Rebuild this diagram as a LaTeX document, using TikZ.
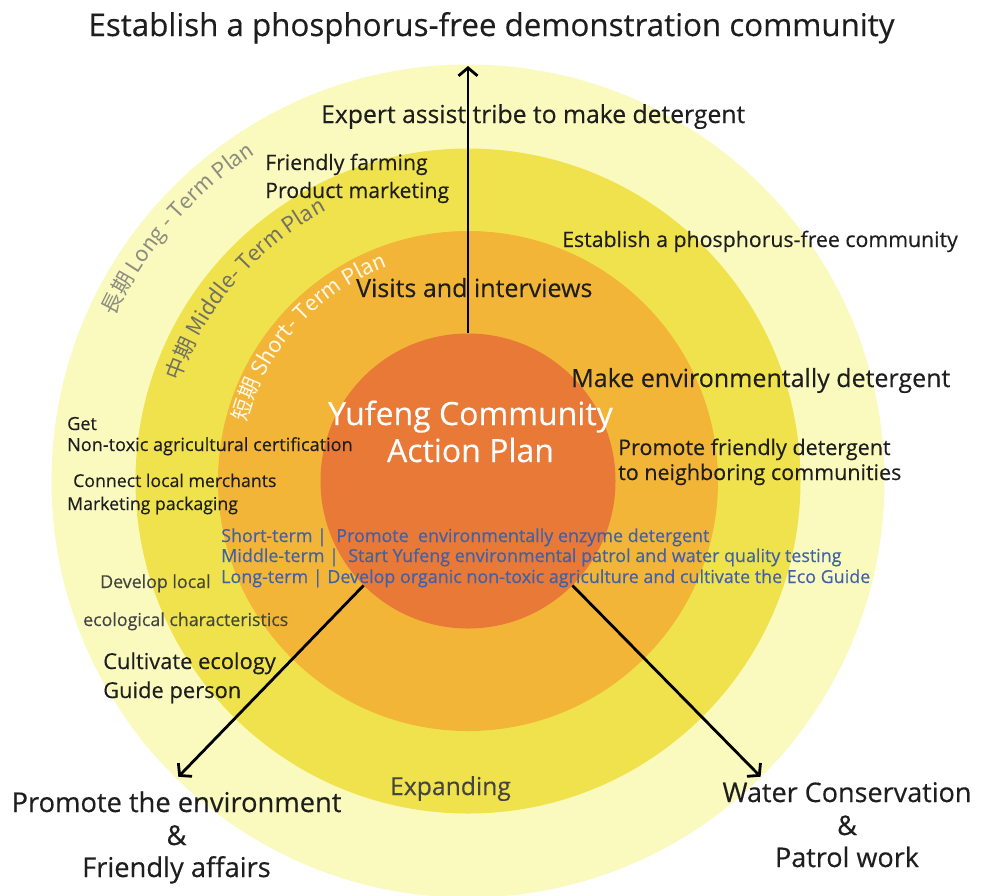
\documentclass[tikz,border=0pt]{standalone}
\usepackage{fontspec}
\setmainfont[FakeBold=0.3]{Open Sans}
\newfontfamily\cjkfont{Noto Sans CJK TC}
\usetikzlibrary{arrows.meta,decorations.text,calc}
\definecolor{cRingA}{RGB}{250,250,190}
\definecolor{cRingB}{RGB}{240,226,76}
\definecolor{cRingC}{RGB}{243,181,56}
\definecolor{cCore}{RGB}{232,121,54}
\definecolor{ink}{RGB}{30,30,30}
\definecolor{dgray}{RGB}{68,68,68}
\definecolor{bluetxt}{RGB}{64,96,168}
\definecolor{lterm}{RGB}{140,140,128}
\definecolor{mterm}{RGB}{112,112,100}
\definecolor{sterm}{RGB}{255,248,232}
\newcommand\fsz[1]{\fontsize{#1}{#1}\selectfont}
\begin{document}
\begin{tikzpicture}[x=1pt,y=1pt,
  ring/.style={circle,inner sep=0pt,draw=none},
  txt/.style={inner sep=0pt,text=ink},
  lft/.style={txt,anchor=base west},
  ctr/.style={txt,anchor=base},
  conn/.style={line width=2.8pt,draw=black,-{Straight Barb[length=8pt,width=19pt]}}]
\useasboundingbox (0,0) rectangle (982,-895);
\fill[white] (0,0) rectangle (982,-895);
\coordinate (c) at (468,-481);
\node[ring,fill=cRingA,minimum size=833pt] (r4) at (c) {};
\node[ring,fill=cRingB,minimum size=665pt] (r3) at (c) {};
\node[ring,fill=cRingC,minimum size=500pt] (r2) at (c) {};
\node[ring,fill=cCore,minimum size=295pt] (core) at (c) {};

% curved band labels
\path[decorate,decoration={text along path,text align=center,
  text={|\cjkfont\fsz{21.5}\color{lterm}|長期 Long - Term Plan}}]
  ($(c)+(165:390)$) arc[start angle=165,end angle=113,radius=390];
\path[decorate,decoration={text along path,text align=center,
  text={|\cjkfont\fsz{21.5}\color{mterm}|中期 Middle- Term Plan}}]
  ($(c)+(170:305)$) arc[start angle=170,end angle=108.6,radius=305];
\path[decorate,decoration={text along path,text align=center,
  text={|\cjkfont\fsz{21.5}\color{sterm}|短期 Short- Term Plan}}]
  ($(c)+(175:229)$) arc[start angle=175,end angle=100.8,radius=229];

% texts
\node[ctr,font=\fsz{31.3}] (title) at (491.5,-36) {Establish a phosphorus-free demonstration community};
\node[lft,font=\fsz{24.7}] (expert) at (321,-123) {Expert assist tribe to make detergent};
\node[lft,font=\fsz{21.3}] (farm) at (265,-170) {Friendly farming};
\node[lft,font=\fsz{21.3}] (market) at (265,-198) {Product marketing};
\node[lft,font=\fsz{21.3}] (pfree) at (562,-247) {Establish a phosphorus-free community};
\node[lft,font=\fsz{25}] (visits) at (356,-297) {Visits and interviews};
\node[lft,font=\fsz{25}] (make) at (571,-387) {Make environmentally detergent};
\node[lft,font=\fsz{21.5}] (prom1) at (618,-455) {Promote friendly detergent};
\node[lft,font=\fsz{21.5}] (prom2) at (618,-480) {to neighboring communities};
\node[ctr,text=white,font=\fsz{32}] (yf1) at (470.5,-425) {Yufeng Community};
\node[ctr,text=white,font=\fsz{32}] (yf2) at (470.5,-462) {Action Plan};
\node[lft,font=\fsz{18.1}] (get1) at (67,-430) {Get};
\node[lft,font=\fsz{18.1}] (get2) at (67,-451) {Non-toxic agricultural certification};
\node[lft,font=\fsz{17.7}] (conn1) at (73,-487) {Connect local merchants};
\node[lft,font=\fsz{17.7}] (pack) at (67,-510) {Marketing packaging};
\node[lft,text=bluetxt,font=\fsz{17.9}] (b1) at (221,-542) {Short-term | \ Promote\ \ environmentally enzyme detergent};
\node[lft,text=bluetxt,font=\fsz{17.9}] (b2) at (221,-562) {Middle-term | \ Start Yufeng environmental patrol and water quality testing};
\node[lft,text=bluetxt,font=\fsz{17.9}] (b3) at (221,-583) {Long-term | Develop organic non-toxic agriculture and cultivate the Eco Guide};
\node[lft,text=dgray,font=\fsz{17.8}] (dev) at (100,-588) {Develop local};
\node[lft,text=dgray,font=\fsz{17.8}] (eco) at (83,-626) {ecological characteristics};
\node[lft,font=\fsz{21.9}] (cult) at (103,-669) {Cultivate ecology};
\node[lft,font=\fsz{21.9}] (guide) at (103,-698) {Guide person};
\node[ctr,text=dgray,font=\fsz{24.7}] (exp) at (450.5,-795) {Expanding};
\node[ctr,font=\fsz{27.3}] (pe1) at (176.5,-812) {Promote the environment};
\node[ctr,font=\fsz{27.3}] (pe2) at (176.5,-845) {\&};
\node[ctr,font=\fsz{27.3}] (pe3) at (176.5,-877) {Friendly affairs};
\node[ctr,font=\fsz{27}] (wc1) at (847,-802) {Water Conservation};
\node[ctr,font=\fsz{27}] (wc2) at (847,-835) {\&};
\node[ctr,font=\fsz{27}] (wc3) at (847,-867) {Patrol work};

% arrows
\coordinate (topend) at (468,-66);
\coordinate (lend) at ($(c)+(-134.4:414)$);
\coordinate (rend) at ($(c)+(-45.3:416)$);
\draw[conn] (core.north) -- (topend);
\draw[conn] (core.-135) -- (lend);
\draw[conn] (core.-45) -- (rend);
\end{tikzpicture}
\end{document}
